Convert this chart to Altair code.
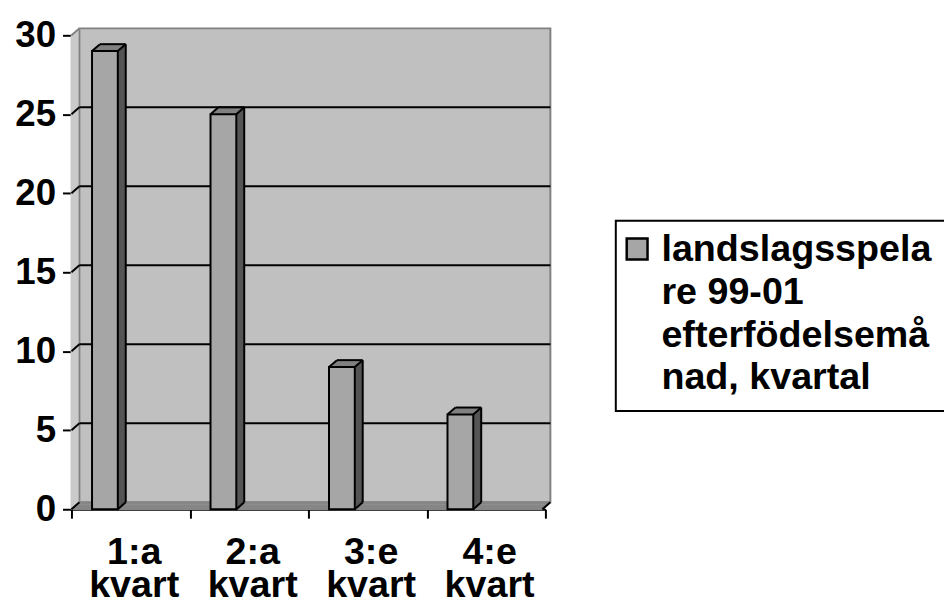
import altair as alt
import pandas as pd

# ---- data ----
categories = ["1:a kvart", "2:a kvart", "3:e kvart", "4:e kvart"]
values = [29, 25, 9, 6]
y_ticks = [0, 5, 10, 15, 20, 25, 30]
legend_lines = ["landslagsspela", "re 99-01", "efterfödelsemå", "nad, kvartal"]

df = pd.DataFrame({"kvartal": categories, "antal": values})
tick_df = pd.DataFrame({"v": y_ticks})
one = pd.DataFrame({"_": [0]})

# ---- style ----
W, H = 478, 478
DX, DY = 8, 7          # 3-D depth in pixels
FONT = "Liberation Sans"
FRONT, SIDE, TOP = "#A6A6A6", "#555555", "#808080"
WALL, LWALL, FLOOR = "#C0C0C0", "#CACACA", "#868686"
BW, BX = 26, -26        # bar width and offset from band centre
LEFT, RIGHT = BX - BW / 2, BX + BW / 2

y_scale = alt.Scale(domain=[0, 30], nice=False, zero=True)
y_axis = alt.Axis(values=y_ticks, title=None, grid=False, labelFont=FONT, labelFontSize=37,
                  labelFontWeight="bold", labelColor="black", labelPadding=7,
                  tickSize=9, tickWidth=2, tickColor="black",
                  domainColor="black", domainWidth=2)
x_scale = alt.Scale(paddingInner=0, paddingOuter=0)
x_axis = alt.Axis(title=None, labelAngle=0, labelExpr="split(datum.label, ' ')",
                  labelFont=FONT, labelFontSize=38, labelFontWeight="bold", labelColor="black",
                  labelLineHeight=33, labelPadding=16, labelOffset=3, tickBand="extent",
                  tickSize=9, tickWidth=2, tickColor="black",
                  domainColor="black", domainWidth=2)


def X(**kw):
    return alt.X("kvartal:N", sort=categories, scale=x_scale, axis=x_axis, **kw)


def X2(**kw):
    return alt.X2("kvartal:N", **kw)


def Yd(v):
    return alt.YDatum(v, type="quantitative", scale=y_scale, axis=y_axis)


def Yv():
    return alt.Y("antal:Q", scale=y_scale, axis=y_axis)


layers = []

# back wall
layers.append(alt.Chart(one).mark_rect(fill=WALL, stroke="#808080", strokeWidth=2,
                                       yOffset=-DY, y2Offset=-DY).encode(
    x=alt.value(DX), x2=alt.value(W + 5), y=Yd(30), y2=alt.Y2Datum(0)))

# left wall
for k in range(0, DX + 1):
    o = -k * DY / DX
    layers.append(alt.Chart(one).mark_rule(color=LWALL, strokeWidth=1.6, yOffset=o, y2Offset=o).encode(
        x=alt.value(k), y=Yd(30), y2=alt.Y2Datum(0)))

# floor
for k in range(0, DX + 1):
    o = -k * DY / DX
    layers.append(alt.Chart(one).mark_rule(color=FLOOR, strokeWidth=1.6, yOffset=o).encode(
        x=alt.value(k), x2=alt.value(W - 3 + k), y=Yd(0)))

# wall corner line
layers.append(alt.Chart(one).mark_rule(color="#808080", strokeWidth=1.5, yOffset=-DY, y2Offset=-DY).encode(
    x=alt.value(DX), y=Yd(30), y2=alt.Y2Datum(0)))

# gridlines on back wall
layers.append(alt.Chart(tick_df).transform_filter("datum.v > 0 && datum.v < 30").mark_rule(
    color="black", strokeWidth=2, yOffset=-DY).encode(
    x=alt.value(DX), x2=alt.value(W + 5), y=alt.Y("v:Q", scale=y_scale, axis=y_axis)))

# gridlines on left wall (diagonals)
layers.append(alt.Chart(tick_df).mark_rule(strokeWidth=2, y2Offset=-DY).encode(
    x=alt.value(0), x2=alt.value(DX),
    y=alt.Y("v:Q", scale=y_scale, axis=y_axis), y2="v:Q",
    color=alt.condition("datum.v == 30", alt.value("#808080"), alt.value("black"))))

# right end of floor
layers.append(alt.Chart(one).mark_rule(color="black", strokeWidth=2, y2Offset=-DY).encode(
    x=alt.value(W - 3), x2=alt.value(W + 5), y=Yd(0), y2=alt.Y2Datum(0)))

# bar extrusion (top face colour)
for k in range(DX, 0, -1):
    o = -k * DY / DX
    layers.append(alt.Chart(df).mark_bar(width=BW, xOffset=BX + k, yOffset=o, y2Offset=o,
                                         fill=TOP, strokeWidth=0).encode(
        x=X(), y=Yv(), y2=alt.Y2Datum(0)))

# bar side faces
for k in range(1, DX + 1):
    o = -k * DY / DX
    layers.append(alt.Chart(df).mark_rule(color=SIDE, strokeWidth=1.5, xOffset=RIGHT + k - 0.5,
                                          yOffset=o, y2Offset=o).encode(
        x=X(bandPosition=0.5), y=Yv(), y2=alt.Y2Datum(0)))

# bar edges
layers.append(alt.Chart(df).mark_rule(color="black", strokeWidth=2, xOffset=RIGHT + DX,
                                      yOffset=-DY, y2Offset=-DY).encode(
    x=X(bandPosition=0.5), y=Yv(), y2=alt.Y2Datum(0)))
layers.append(alt.Chart(df).mark_rule(color="black", strokeWidth=2, xOffset=LEFT + DX,
                                      x2Offset=RIGHT + DX, yOffset=-DY).encode(
    x=X(bandPosition=0.5), x2=X2(bandPosition=0.5), y=Yv()))
for edge in (LEFT, RIGHT):
    layers.append(alt.Chart(df).mark_rule(color="black", strokeWidth=2, xOffset=edge,
                                          x2Offset=edge + DX, y2Offset=-DY).encode(
        x=X(bandPosition=0.5), x2=X2(bandPosition=0.5), y=Yv(), y2="antal:Q"))
layers.append(alt.Chart(df).mark_rule(color="black", strokeWidth=2, xOffset=RIGHT,
                                      x2Offset=RIGHT + DX, y2Offset=-DY).encode(
    x=X(bandPosition=0.5), x2=X2(bandPosition=0.5), y=Yd(0), y2=alt.Y2Datum(0)))

# front faces
layers.append(alt.Chart(df).mark_bar(width=BW, xOffset=BX, fill=FRONT, stroke="black",
                                     strokeWidth=2).encode(
    x=X(), y=Yv(), y2=alt.Y2Datum(0)))

# legend
layers.append(alt.Chart(one).mark_rect(fill="white", stroke="black", strokeWidth=2).encode(
    x=alt.value(549), x2=alt.value(960), y=alt.value(187), y2=alt.value(379)))
layers.append(alt.Chart(one).mark_rect(fill=FRONT, stroke="black", strokeWidth=2.5).encode(
    x=alt.value(560), x2=alt.value(581), y=alt.value(205), y2=alt.value(226)))
layers.append(alt.Chart(one).mark_text(align="left", baseline="alphabetic", font=FONT, fontSize=38,
                                       fontWeight="bold", color="black", lineHeight=43).encode(
    x=alt.value(595), y=alt.value(228), text=alt.value(legend_lines)))

chart = alt.layer(*layers).properties(
    width=W, height=H,
    padding={"left": 64, "top": 25, "right": 944 - 64 - W, "bottom": 596 - 25 - H},
    autosize=alt.AutoSizeParams(type="none"),
    background="white",
).configure_view(stroke=None)

chart.save("out.html", embed_options={"renderer": "svg", "actions": False})
